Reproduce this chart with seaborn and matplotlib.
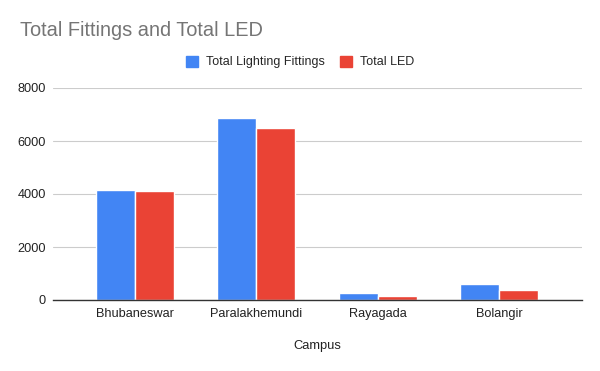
import matplotlib
matplotlib.use("Agg")
import matplotlib.pyplot as plt
import seaborn as sns
import pandas as pd
from matplotlib.patches import Patch

campuses = ["Bhubaneswar", "Paralakhemundi", "Rayagada", "Bolangir"]
total_fittings = [4160, 6880, 280, 610]
total_led = [4120, 6500, 150, 380]
series_names = ["Total Lighting Fittings", "Total LED"]
colors = ["#4285F4", "#EA4335"]
yticks = [0, 2000, 4000, 6000, 8000]

df = pd.DataFrame({
    "Campus": campuses * 2,
    "Value": total_fittings + total_led,
    "Series": [series_names[0]] * len(campuses) + [series_names[1]] * len(campuses),
})

sns.set_style("white")
plt.rcParams["font.family"] = ["Liberation Sans", "DejaVu Sans"]

fig = plt.figure(figsize=(6, 3.71), dpi=100)
ax = fig.add_axes([53 / 600, 1 - 300 / 371, 529 / 600, 212 / 371])

sns.barplot(data=df, x="Campus", y="Value", hue="Series", palette=colors,
            width=0.645, ax=ax, edgecolor="white", linewidth=1, saturation=1,
            legend=False)

ax.set_ylim(0, 8000)
ax.set_xlim(-0.676, 3.684)
ax.set_yticks(yticks)
ax.set_yticklabels([str(v) for v in yticks])
ax.yaxis.grid(True, color="#cccccc", linewidth=0.8)
ax.set_axisbelow(True)
for s in ["top", "right", "left"]:
    ax.spines[s].set_visible(False)
ax.spines["bottom"].set_color("#333333")
ax.spines["bottom"].set_linewidth(1)
ax.tick_params(axis="both", length=0, labelsize=9.2, labelcolor="#222222")
ax.tick_params(axis="x", pad=6)
ax.tick_params(axis="y", pad=5)
ax.set_ylabel("")
ax.set_xlabel("Campus", fontsize=9.3, color="#222222", labelpad=14.5)

fig.text(20 / 600, 1 - 30 / 371, "Total Fittings and Total LED", fontsize=14.4,
         color="#757575", va="center", ha="left")

handles = [Patch(facecolor=c, edgecolor=c) for c in colors]
fig.legend(handles, series_names, loc="center", bbox_to_anchor=(300 / 600, 1 - 62 / 371),
           ncol=2, frameon=False, fontsize=9, handlelength=1.0, handleheight=1.0,
           handletextpad=0.6, columnspacing=1.2)

fig.savefig("out.png", dpi=100)
